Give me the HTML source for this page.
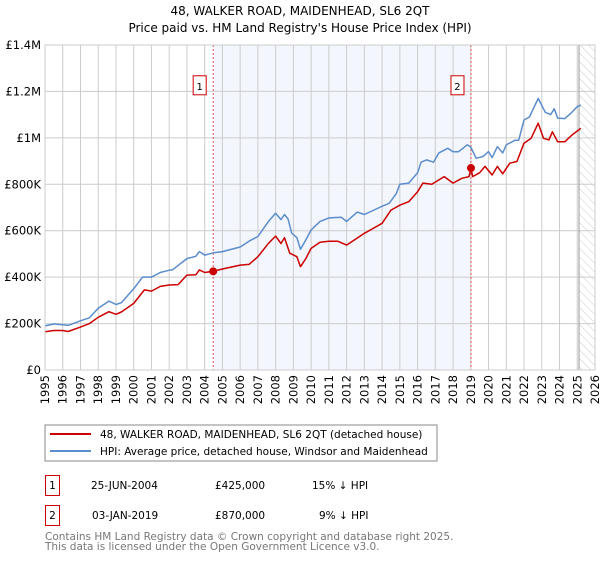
<!DOCTYPE html>
<html><head><meta charset="utf-8"><style>
body{margin:0;background:#fff;font-family:"DejaVu Sans","Liberation Sans",sans-serif;}
svg text{font-family:"DejaVu Sans","Liberation Sans",sans-serif;}
</style></head><body>
<svg id="c" width="600" height="560" xmlns="http://www.w3.org/2000/svg">
<defs><pattern id="hatch" width="6" height="6" patternUnits="userSpaceOnUse" patternTransform="rotate(-45)"><line x1="0" y1="0" x2="0" y2="6" stroke="#ccc" stroke-width="1"/></pattern></defs>
<text x="300" y="15" text-anchor="middle" font-size="12">48, WALKER ROAD, MAIDENHEAD, SL6 2QT</text>
<text x="300" y="32" text-anchor="middle" font-size="12">Price paid vs. HM Land Registry's House Price Index (HPI)</text>
<g id="plot"></g>
<rect x="45" y="425" width="392" height="36" fill="#fff" stroke="#888"/>
<line x1="50" y1="434" x2="91" y2="434" stroke="#cc0000" stroke-width="2"/>
<text x="100" y="438" font-size="10.5">48, WALKER ROAD, MAIDENHEAD, SL6 2QT (detached house)</text>
<line x1="50" y1="451" x2="91" y2="451" stroke="#5b8ccc" stroke-width="2"/>
<text x="100" y="455" font-size="10.5">HPI: Average price, detached house, Windsor and Maidenhead</text>
<rect x="45.5" y="475.5" width="14" height="20" fill="#fff" stroke="#cc0000"/>
<text x="52.5" y="489" text-anchor="middle" font-size="10.5">1</text>
<text x="91" y="489" font-size="10.5">25-JUN-2004</text>
<text x="215" y="489" font-size="10.5">£425,000</text>
<text x="312" y="489" font-size="10.5">15% ↓ HPI</text>
<rect x="45.5" y="505.5" width="14" height="20" fill="#fff" stroke="#cc0000"/>
<text x="52.5" y="519" text-anchor="middle" font-size="10.5">2</text>
<text x="92" y="519" font-size="10.5">03-JAN-2019</text>
<text x="215" y="519" font-size="10.5">£870,000</text>
<text x="319" y="519" font-size="10.5">9% ↓ HPI</text>
<text x="45" y="540" font-size="10.5" fill="#777">Contains HM Land Registry data © Crown copyright and database right 2025.</text>
<text x="45" y="550" font-size="10.5" fill="#777">This data is licensed under the Open Government Licence v3.0.</text>
</svg>
<script>
const hpiYears=[1995,1995.5,1996,1996.3,1997,1997.5,1998,1998.6,1999,1999.3,2000,2000.5,2001,2001.5,2002,2002.2,2003,2003.5,2003.7,2004,2004.5,2005,2006,2006.5,2007,2007.6,2008,2008.3,2008.5,2008.7,2008.9,2009.2,2009.4,2009.7,2010,2010.5,2011,2011.7,2012,2012.6,2013,2014,2014.4,2014.8,2015,2015.5,2016,2016.2,2016.5,2016.9,2017.2,2017.7,2018,2018.3,2018.8,2019,2019.3,2019.7,2020,2020.2,2020.5,2020.8,2021,2021.5,2021.7,2022,2022.3,2022.8,2023.2,2023.5,2023.7,2023.9,2024.3,2024.7,2025,2025.2];
const hpiValues=[190,198,195,192,212,225,266,297,282,290,350,400,400,420,430,432,480,490,510,495,505,510,530,555,575,640,675,648,670,650,590,570,520,560,603,640,655,658,640,680,670,705,718,760,800,805,850,895,905,895,935,955,940,940,970,960,912,920,941,915,962,935,970,990,990,1077,1090,1170,1110,1100,1125,1085,1083,1110,1135,1140];
const ppYears=[1995,1995.5,1996,1996.3,1997,1997.5,1998,1998.6,1999,1999.3,2000,2000.6,2001,2001.5,2002,2002.5,2003,2003.5,2003.7,2004,2004.48,2005,2006,2006.5,2007,2007.6,2008,2008.3,2008.5,2008.8,2009.2,2009.4,2009.7,2010,2010.5,2011,2011.5,2012,2013,2013.5,2014,2014.5,2015,2015.5,2016,2016.3,2016.8,2017.5,2018,2018.5,2018.9,2019.01,2019.1,2019.5,2019.8,2020.2,2020.5,2020.8,2021.2,2021.6,2022,2022.4,2022.8,2023.1,2023.4,2023.6,2023.9,2024.3,2024.7,2025.2];
const ppValues=[165,170,170,166,185,200,227,251,240,250,287,345,340,360,366,368,409,410,431,420,425,435,452,455,488,546,577,545,570,503,488,445,480,524,550,555,555,538,589,610,632,689,710,725,768,805,800,833,805,826,833,870,833,850,877,840,877,845,891,898,977,998,1063,998,991,1026,983,983,1012,1041];
const sales=[{x:2004.48,v:425,label:"1"},{x:2019.01,v:870,label:"2"}];
const yTicks=[0,200,400,600,800,1000,1200,1400];
const yTickLabels=["£0","£200K","£400K","£600K","£800K","£1M","£1.2M","£1.4M"];
const xTicks=[];for(let y=1995;y<=2026;y++)xTicks.push(y);
const L=45,R=595,T=45,B=370,X0=1995,X1=2026,Vmax=1400;
const sx=x=>L+(x-X0)/(X1-X0)*(R-L);
const sy=v=>B-v/Vmax*(B-T);
const g=document.getElementById('plot');const NS="http://www.w3.org/2000/svg";
function mk(t,a,p){const e=document.createElementNS(NS,t);for(const k in a)e.setAttribute(k,a[k]);(p||g).appendChild(e);return e;}
let e=mk('rect',{x:sx(sales[0].x),y:T,width:sx(sales[1].x)-sx(sales[0].x),height:B-T,fill:'#f3f6fd'});


e=mk('rect',{x:sx(2025.1),y:T,width:R-sx(2025.1),height:B-T,fill:'url(#hatch)'});


xTicks.forEach(y=>{const l=mk('line',{x1:sx(y),y1:T,x2:sx(y),y2:B,stroke:'#ccc'});


const t=mk('text',{x:0,y:0,'font-size':'11.5','text-anchor':'end',transform:`translate(${sx(y)+4},${B+5}) rotate(-90)`});t.textContent=y;

});
yTicks.forEach((v,i)=>{const l=mk('line',{x1:L,y1:sy(v),x2:R,y2:sy(v),stroke:'#ccc'});


const t=mk('text',{x:L-4,y:sy(v)+4,'font-size':'11.5','text-anchor':'end'});t.textContent=yTickLabels[i];

});
e=mk('line',{x1:sx(2025.1),y1:T,x2:sx(2025.1),y2:B,stroke:'#999'});


sales.forEach(s=>{const l=mk('line',{x1:sx(s.x),y1:T,x2:sx(s.x),y2:B,stroke:'#e05555','stroke-dasharray':'2,2'});


const r=mk('rect',{x:sx(s.x)-20,y:sy(1220)-11,width:13,height:19,fill:'#fff',stroke:'#cc0000'});


const t=mk('text',{x:sx(s.x)-13.5,y:sy(1220)+3,'font-size':'10','text-anchor':'middle'});t.textContent=s.label;

});
function path(xs,vs,c,n){const d=xs.map((x,i)=>(i?'L':'M')+sx(x).toFixed(1)+','+sy(vs[i]).toFixed(1)).join('');
const p=mk('path',{d:d,fill:'none',stroke:c,'stroke-width':1.5,'stroke-linejoin':'round'});

}
path(hpiYears,hpiValues,'#5b8ccc','hpi-line');
path(ppYears,ppValues,'#cc0000','price-paid-line');
sales.forEach(s=>{const c=mk('circle',{cx:sx(s.x),cy:sy(s.v),r:4,fill:'#cc0000'});

});
e=mk('rect',{x:L,y:T,width:R-L,height:B-T,fill:'none',stroke:'#ccc'});


</script>
</body></html>
